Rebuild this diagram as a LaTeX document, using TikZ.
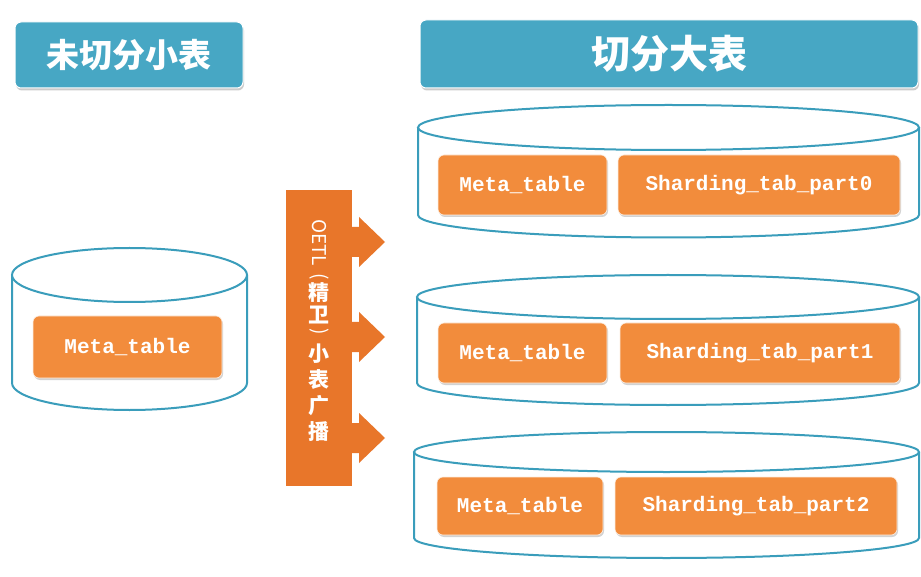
\documentclass[tikz,border=0pt]{standalone}
\usepackage{fontspec}
\usepackage{graphicx}
\newfontfamily\cjk{Noto Sans CJK SC}
\newfontfamily\monob{Liberation Mono}
\usetikzlibrary{shadows}
\definecolor{tealbox}{HTML}{47A7C4}
\definecolor{cylline}{HTML}{3A9DBB}
\definecolor{obox}{HTML}{F28C3C}
\definecolor{obar}{HTML}{E8762A}
\tikzset{
  titlebox/.style={fill=tealbox, draw=white, line width=1pt, rounded corners=6pt,
    drop shadow={shadow xshift=1pt, shadow yshift=-2.5pt, fill=black!40, opacity=0.5},
    text=white, inner sep=0pt},
  cylfill/.style={fill=white},
  cylline/.style={draw=cylline, line width=2pt},
  tabbox/.style={fill=obox, draw=white!85!obox, line width=0.6pt, rounded corners=6pt,
    drop shadow={shadow xshift=1pt, shadow yshift=-2pt, fill=black!35, opacity=0.5},
    text=white, inner sep=0pt, font=\monob\bfseries\fontsize{21}{21}\selectfont},
  barbox/.style={fill=obar, inner sep=0pt},
  blockarrow/.style={fill=obar},
  barcjk/.style={text=white, inner sep=0pt, font=\cjk\bfseries\fontsize{21}{21}\selectfont},
  barlat/.style={text=white, inner sep=0pt, rotate=-90, font=\cjk\fontsize{19}{19}\selectfont}
}
\begin{document}
\begin{tikzpicture}[x=1pt,y=1pt]
\useasboundingbox (0,0) rectangle (921,-577);
\fill[white] (0,0) rectangle (921,-577);

% titles
\node[titlebox, minimum width=228pt, minimum height=66pt, font=\cjk\bfseries\fontsize{33}{33}\selectfont] (tleft) at (129,-55) {未切分小表};
\node[titlebox, minimum width=498pt, minimum height=68pt, font=\cjk\bfseries\fontsize{39}{39}\selectfont] (tright) at (669,-54) {切分大表};

% left cylinder
\fill[cylfill] (12,-275) -- (12,-383) arc[start angle=180,end angle=360,x radius=117.5,y radius=27] -- (247,-275) -- cycle;
\draw[cylline] (12,-275) -- (12,-383) arc[start angle=180,end angle=360,x radius=117.5,y radius=27] -- (247,-275);
\draw[cylline, fill=white] (129.5,-275) ellipse[x radius=117.5, y radius=27];

% right cylinder 1
\fill[cylfill] (418,-127.5) -- (418,-215) arc[start angle=180,end angle=360,x radius=250.5,y radius=22.5] -- (919,-127.5) -- cycle;
\draw[cylline] (418,-127.5) -- (418,-215) arc[start angle=180,end angle=360,x radius=250.5,y radius=22.5] -- (919,-127.5);
\draw[cylline, fill=white] (668.5,-127.5) ellipse[x radius=250.5, y radius=22.5];

% right cylinder 2
\fill[cylfill] (417,-297) -- (417,-383) arc[start angle=180,end angle=360,x radius=251,y radius=22] -- (919,-297) -- cycle;
\draw[cylline] (417,-297) -- (417,-383) arc[start angle=180,end angle=360,x radius=251,y radius=22] -- (919,-297);
\draw[cylline, fill=white] (668,-297) ellipse[x radius=251, y radius=22];

% right cylinder 3
\fill[cylfill] (414,-452) -- (414,-538) arc[start angle=180,end angle=360,x radius=252.5,y radius=20] -- (919,-452) -- cycle;
\draw[cylline] (414,-452) -- (414,-538) arc[start angle=180,end angle=360,x radius=252.5,y radius=20] -- (919,-452);
\draw[cylline, fill=white] (666.5,-452) ellipse[x radius=252.5, y radius=20];

% table boxes
\node[tabbox, minimum width=189pt, minimum height=62pt] (lmeta) at (127.5,-347) {Meta\_table};
\node[tabbox, minimum width=169pt, minimum height=60pt] (meta0) at (522.5,-185) {Meta\_table};
\node[tabbox, minimum width=282pt, minimum height=60pt] (shard0) at (759,-185) {Sharding\_tab\_part0};
\node[tabbox, minimum width=169pt, minimum height=60pt] (meta1) at (522.5,-353) {Meta\_table};
\node[tabbox, minimum width=280pt, minimum height=60pt] (shard1) at (760,-353) {Sharding\_tab\_part1};
\node[tabbox, minimum width=166pt, minimum height=58pt] (meta2) at (520,-506) {Meta\_table};
\node[tabbox, minimum width=282pt, minimum height=58pt] (shard2) at (756,-506) {Sharding\_tab\_part2};

% broadcast bar
\node[barbox, minimum width=66pt, minimum height=296pt] (bar) at (319,-338) {};
\foreach \yy in {-242,-337,-438}{
  \fill[blockarrow] (351,\yy+15) -- (359,\yy+15) -- (359,\yy+25) -- (385,\yy) -- (359,\yy-25) -- (359,\yy-15) -- (351,\yy-15) -- cycle;
}
\node[barlat] (b1) at (319,-242.5) {OETL};
\node[barlat] (b2) at (319,-277) {(};
\node[barcjk] (b3) at (319,-293) {精};
\node[barcjk] (b4) at (319,-315) {卫};
\node[barlat] (b5) at (319,-332) {)};
\node[barcjk] (b6) at (319,-353.5) {小};
\node[barcjk] (b7) at (319,-379.5) {表};
\node[barcjk] (b8) at (319,-406) {广};
\node[barcjk] (b9) at (319,-431.5) {播};
\end{tikzpicture}
\end{document}
